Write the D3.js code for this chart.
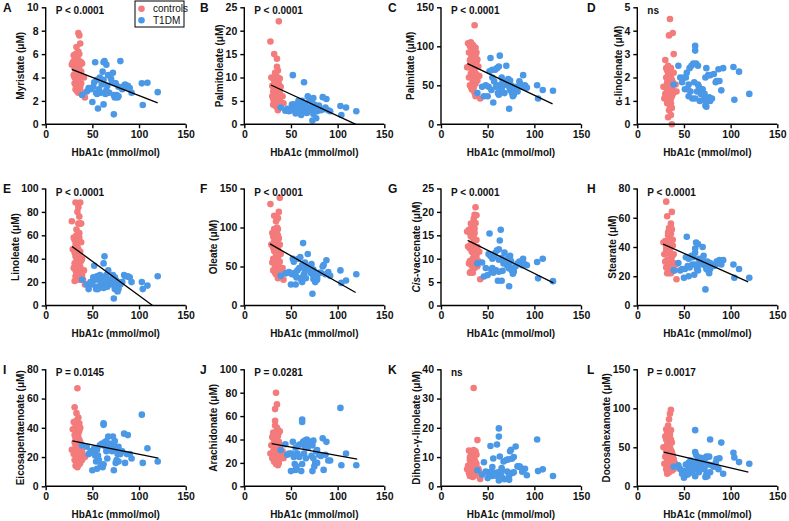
<!DOCTYPE html>
<html><head><meta charset="utf-8">
<script src="https://cdn.jsdelivr.net/npm/d3@7"></script>
<style>body{margin:0;background:#fff}</style>
</head><body><svg id="c" width="789" height="521"></svg>
<script>
const panelLetters = ["A","B","C","D","E","F","G","H","I","J","K","L"];
const yLabels = ["Myristate (μM)","Palmitoleate (μM)","Palmitate (μM)","α-linolenate (μM)",
  "Linoleate (μM)","Oleate (μM)","Cis-vaccenate (μM)","Stearate (μM)",
  "Eicosapentaenoate (μM)","Arachidonate (μM)","Dihomo-γ-linoleate (μM)","Docosahexanoate (μM)"];
const yMax = [10,25,150,5,100,150,25,80,80,100,40,150];
const yStep = [2,5,50,1,20,50,5,20,20,20,10,50];
const pLabels = ["P < 0.0001","P < 0.0001","P < 0.0001","ns","P < 0.0001","P < 0.0001","P < 0.0001","P < 0.0001","P = 0.0145","P = 0.0281","ns","P = 0.0017"];
const xTicks = [0,50,100,150];
const xLabel = "HbA1c (mmol/mol)";
const seriesNames = ["controls","T1DM"];

const controlsHbA1c = [28,29,30,30,31,31,31,32,32,32,32,33,33,33,33,33,34,34,34,34,34,34,35,35,35,35,35,36,36,36,36,36,37,37,37,37,38,38,38,39,39,40,41,42,32,33,34,35,36,31,37,35];
const t1dmHbA1c = [39,44,46,48,50,51,52,53,54,55,55,56,57,58,59,60,61,62,62,62,63,64,65,65,66,67,68,70,71,72,73,73,74,74,75,76,77,78,78,80,82,84,85,87,88,90,92,103,104,109,120];

const ctrlA = [5.1,5.3,4.2,5.9,3.5,4.8,5.6,6.0,3.0,4.4,5.2,6.6,3.8,2.9,5.5,4.6,6.1,3.3,5.0,4.1,2.8,5.7,7.8,3.6,5.3,4.0,6.2,7.6,3.1,4.9,5.4,3.9,6.9,4.3,2.9,5.2,5.3,4.5,3.5,2.6,5.2,2.5,4.0,2.3,3.4,5.8,4.7,2.7,6.0,4.0,3.2,5.0];
const t1dmA = [2.5,2.8,3.1,3.0,1.9,3.2,3.6,5.3,2.7,3.8,2.6,1.35,3.0,4.0,2.7,3.4,4.5,3.8,1.7,5.3,5.4,2.6,5.1,2.9,3.3,4.2,2.7,3.9,3.6,4.4,0.85,2.5,3.5,2.3,3.5,2.5,2.3,2.4,3.2,5.4,3.0,3.3,3.4,3.2,3.3,3.1,2.7,3.5,1.65,3.55,2.75];
const ctrlB = [17.7,10.0,6.0,8.2,4.2,9.8,7.0,15.0,5.0,8.8,4.4,10.2,6.5,9.0,4.0,7.5,8.0,5.5,9.5,6.8,4.8,10.5,14.0,7.2,12.3,5.8,8.5,11.5,3.0,9.2,6.2,7.8,22.0,5.0,8.6,6.5,9.8,5.6,7.0,4.5,8.0,4.6,6.0,4.5,6.8,11.0,3.8,9.0,10.0,5.4,3.5,6.0];
const t1dmB = [3.6,2.9,3.3,2.8,3.0,4.2,10.5,4.3,3.0,3.5,2.3,4.0,3.4,5.0,2.8,4.8,2.0,3.6,2.8,5.0,3.2,9.0,4.5,3.0,3.8,2.4,6.0,5.2,3.5,4.6,0.8,3.0,5.6,2.2,4.2,3.4,1.3,3.8,2.8,4.0,3.0,5.8,3.2,3.6,5.4,3.0,2.8,3.9,2.0,3.6,2.8];
const ctrlC = [73,104,60,92,50,100,82,105,48,65,92,98,70,88,45,80,95,55,85,72,102,62,90,78,100,47,86,127,40,94,75,68,88,52,98,60,92,64,80,56,83,74,62,33,84,102,44,66,96,76,36,58];
const t1dmC = [40,48,36,50,36,48,68,85,44,60,70,28,55,70,48,72,40,38,50,74,88,42,60,45,55,50,40,75,52,58,20,48,56,44,50,40,36,45,38,48,42,55,52,48,63,50,47,50,33,44,43];
const ctrlD = [1.6,1.1,2.75,1.3,2.4,1.1,2.0,1.8,0.9,2.3,1.5,0.3,2.1,1.2,1.7,2.5,3.8,1.0,1.9,1.4,0.6,2.2,4.5,1.3,2.0,0.8,1.7,1.8,0.4,2.1,1.1,2.4,0.0,1.5,1.9,0.7,3.9,1.3,1.8,3.0,2.2,1.4,1.7,1.4,1.0,2.0,1.6,2.3,0.9,1.6,1.2,1.0];
const t1dmD = [1.7,2.5,2.0,1.8,2.0,1.5,2.0,2.2,1.5,1.7,1.2,2.4,1.4,2.5,1.1,2.6,1.8,3.35,3.15,1.1,2.6,1.4,1.7,2.5,1.6,1.0,1.3,1.5,1.05,1.3,0.8,2.0,0.75,2.4,1.0,2.1,1.15,2.1,1.0,1.1,2.15,1.8,1.85,2.35,1.85,1.45,2.4,2.45,1.05,2.25,1.3];
const ctrlE = [72,48,32,58,21,45,36,88,25,52,30,60,40,55,28,47,80,34,57,44,24,50,84,38,70,30,54,76,22,58,42,36,88,28,70,46,70,38,54,26,40,22,30,18,42,65,27,48,62,56,33,43];
const t1dmE = [22,18,14,20,18,24,34,22,14,25,16,14,22,26,18,16,24,15,19,36,42,16,26,20,16,30,22,22,18,26,6,20,24,14,22,16,12,20,14,18,20,26,25,25,25,24,20,20,14,17,25];
const ctrlF = [130,78,55,93,45,88,60,115,46,98,70,95,52,84,42,74,108,48,92,66,40,80,100,58,96,44,76,112,35,90,62,72,120,50,86,46,138,56,78,42,66,40,48,33,82,94,54,64,98,74,40,86];
const t1dmF = [38,41,42,43,27,40,60,56,42,38,27,36,45,60,48,62,33,30,36,52,80,40,55,45,35,50,66,47,42,53,15,40,46,34,37,30,40,33,36,42,42,50,52,40,58,43,38,45,29,32,40];
const ctrlG = [15.8,12.6,9.0,16.2,7.0,12.2,9.5,17.5,7.2,14.8,9.2,16.6,11.5,15.0,8.5,12.8,17.0,10.0,14.5,12.0,7.0,16.0,18.5,11.0,16.8,8.6,13.5,19.4,8.0,15.5,12.0,10.5,21.0,9.0,17.6,12.2,19.3,10.6,14.0,8.4,12.5,9.5,11.5,5.6,13.0,17.2,9.8,14.6,16.4,15.5,8.3,12.0];
const t1dmG = [9.0,9.2,6.2,8.0,6.5,11.0,15.4,10.6,7.6,10.0,8.0,7.0,10.4,11.2,7.5,11.8,5.3,9.8,7.2,12.0,13.9,16.2,10.2,5.3,7.4,9.0,11.3,9.6,8.5,10.2,4.1,7.9,10.6,8.2,9.5,7.5,6.8,8.0,7.2,8.4,9.0,9.4,9.0,8.6,10.0,8.8,8.6,9.3,5.8,10.0,5.2];
const ctrlH = [43,35,30,44,71,26,38,61,22,41,31,48,28,44,24,36,53,27,46,37,22,42,50,32,47,23,39,56,22,49,34,40,64,26,52,33,45,29,41,29,35,24,28,18,36,50,30,43,54,40,23,37];
const t1dmH = [24,29,24,25,19,25,33,47,27,32,20,26,33,34,28,33,21,28,36,39,43,25,42,24,32,30,28,40,34,30,11,27,28,25,30,24,22,29,25,27,27,28,30,30,31,28,31,28,19,25,19];
const ctrlI = [25,39,22,44,54,18,30,42,14,28,38,50,20,34,16,26,67,22,40,31,13,36,47,24,41,19,33,38,15,27,32,22,40,18,30,25,20,28,22,18,24,21,20,20,33,45,28,36,43,35,16,29];
const t1dmI = [28,27,22,24,11,23,26,21,17,25,12,21,18,28,14,29,13,43,42,15,30,27,24,31,19,34,26,29,24,34,11,28,31,25,16,18,22,17,27,22,24,36,16,22,35,22,19,49,16,26,17];
const ctrlJ = [28,35,24,42,30,46,26,37,21,33,44,66,27,38,56,24,80,32,45,28,19,40,70,30,50,22,36,48,18,34,43,26,46,29,38,24,47,30,25,35,28,26,30,24,39,52,35,42,31,36,20,27];
const t1dmJ = [31,36,27,28,13,28,38,25,19,33,14,17,28,35,25,36,13,57,55,19,38,28,34,39,24,40,33,36,38,26,13,35,39,24,17,20,30,20,31,27,26,41,14,27,38,22,22,67,18,28,18];
const ctrlK = [5.8,7.0,4.5,12.2,3.5,9.0,6.0,10.5,4.2,8.0,11.8,6.5,12.0,5.0,9.5,3.8,7.5,11.0,4.8,8.8,3.2,6.8,33.6,12.4,5.5,10.0,4.0,11.2,7.2,3.6,9.0,5.2,12.0,4.4,8.2,6.2,10.8,5.8,7.6,15.8,4.6,6.0,5.0,2.5,7.8,10.2,5.6,8.5,11.5,9.8,4.2,7.0];
const t1dmK = [5.5,4.0,8.2,5.0,2.8,4.8,4.5,13.8,5.0,6.6,3.5,9.5,4.0,4.5,3.6,14.3,4.8,19.8,17.0,2.0,10.2,4.0,6.2,5.5,2.8,8.5,2.4,9.0,5.0,9.2,2.2,3.5,12.0,4.5,12.5,9.4,4.6,10.0,4.8,13.6,6.8,6.8,6.5,5.0,5.5,6.0,3.8,16.0,5.2,5.8,3.5];
const ctrlL = [50,29,64,38,73,22,45,70,16,54,34,62,25,48,20,40,86,30,58,44,18,52,93,36,66,26,50,98,22,60,38,46,56,28,44,33,40,30,26,35,22,30,28,25,42,78,35,55,72,60,20,42];
const t1dmL = [25,27,22,16,11,20,28,18,15,30,22,17,33,26,19,30,22,72,44,13,40,24,35,29,18,37,24,30,36,22,12,36,38,15,13,28,38,60,18,27,25,30,35,22,36,56,16,43,37,31,29];

const fitStartX = [28,28.5,28.4,null,28.2,27.5,28.6,27.7,28.6,29.3,null,28.4];
const fitStartY = [4.7,8.4,77.8,null,50.5,79,13.9,42,31.1,36.4,null,43.9];
const fitEndX   = [120,119.6,119.5,null,120,119.3,120.4,118.8,120.7,121,null,119];
const fitEndY   = [1.83,0,26.2,null,-3.2,16.6,4.84,16.2,19.3,23.3,null,18.3];

const controlsY = [ctrlA,ctrlB,ctrlC,ctrlD,ctrlE,ctrlF,ctrlG,ctrlH,ctrlI,ctrlJ,ctrlK,ctrlL];
const t1dmY = [t1dmA,t1dmB,t1dmC,t1dmD,t1dmE,t1dmF,t1dmG,t1dmH,t1dmI,t1dmJ,t1dmK,t1dmL];

const colCtrl = "#F47B7B", colT1 = "#4A98E6";
const FONT = "'Liberation Sans', Arial, sans-serif";
const svg = d3.select("#c");
const colX = [45.7, 244.3, 441, 637.3];
const rowTop = [7.3, 188.5, 369.3];
const pw = 140, ph = 117, R = 3.3;
const letterX = [3, 200, 388, 587];

panelLetters.forEach((L, i) => {
  const c = i % 4, r = Math.floor(i / 4);
  const g = svg.append("g").attr("transform", `translate(${colX[c]},${rowTop[r]})`);
  const x = d3.scaleLinear().domain([0,150]).range([0,pw]);
  const y = d3.scaleLinear().domain([0,yMax[i]]).range([ph,0]);

  // points
  g.append("g").selectAll("circle").data(controlsHbA1c.map((h,k)=>[h,controlsY[i][k]]))
    .join("circle").attr("cx",d=>x(d[0])).attr("cy",d=>y(d[1])).attr("r",R).attr("fill",colCtrl);
  g.append("g").selectAll("circle").data(t1dmHbA1c.map((h,k)=>[h,t1dmY[i][k]]))
    .join("circle").attr("cx",d=>x(d[0])).attr("cy",d=>y(d[1])).attr("r",R).attr("fill",colT1);

  // fit line
  if (fitStartX[i] !== null) {
    let x0 = fitStartX[i], y0 = fitStartY[i], x1 = fitEndX[i], y1 = fitEndY[i];
    if (y1 < 0) { x1 = x0 + (0 - y0) * (x1 - x0) / (y1 - y0); y1 = 0; }
    g.append("line").attr("x1",x(x0)).attr("y1",y(y0)).attr("x2",x(x1)).attr("y2",y(y1))
      .attr("stroke","#000").attr("stroke-width",1.3);
  }

  // axes
  const ticks = d3.range(0, yMax[i] + yStep[i]/2, yStep[i]);
  const ya = g.append("g").call(d3.axisLeft(y).tickValues(ticks).tickSize(4).tickPadding(3).tickFormat(d3.format("d")));
  const xa = g.append("g").attr("transform",`translate(0,${ph})`).call(d3.axisBottom(x).tickValues(xTicks).tickSize(4).tickPadding(2).tickFormat(d3.format("d")));
  [ya, xa].forEach(a => {
    a.select(".domain").attr("stroke","#000").attr("stroke-width",1.4);
    a.selectAll(".tick line").attr("stroke","#000").attr("stroke-width",1.4);
    a.selectAll(".tick text").attr("fill","#111").attr("font-family",FONT).attr("font-weight","bold").attr("font-size",10.5);
  });
  ya.select(".domain").attr("d", `M0,${ph}V0`);
  xa.select(".domain").attr("d", `M0,0H${pw}`);

  let maxW = 0;
  ya.selectAll(".tick text").each(function(){ maxW = Math.max(maxW, this.getBBox().width); });

  // y title
  const yt = g.append("text").attr("transform",`translate(${-(7 + maxW + 6)},${ph/2}) rotate(-90)`)
    .attr("text-anchor","middle").attr("dominant-baseline","central")
    .attr("font-family",FONT).attr("font-weight","bold").attr("font-size",10).attr("fill","#111");
  if (yLabels[i].startsWith("Cis")) {
    yt.append("tspan").attr("font-style","italic").text("Cis");
    yt.append("tspan").text(yLabels[i].slice(3));
  } else yt.text(yLabels[i]);

  // x title
  g.append("text").attr("x",pw/2).attr("y",ph+31.5).attr("text-anchor","middle")
    .attr("font-family",FONT).attr("font-weight","bold").attr("font-size",10).attr("fill","#111").text(xLabel);

  // p label
  g.append("text").attr("x",10).attr("y",7).attr("font-family",FONT).attr("font-weight","bold")
    .attr("font-size",10).attr("fill","#111").text(pLabels[i]);

  // panel letter
  svg.append("text").attr("x",letterX[c]).attr("y",rowTop[r]+4.2).attr("font-family",FONT)
    .attr("font-weight","bold").attr("font-size",12).attr("fill","#111").text(L);
});

// legend in panel A
const lg = svg.append("g");
lg.append("rect").attr("x",135).attr("y",1).attr("width",49).attr("height",26).attr("fill","#fff").attr("stroke","#000").attr("stroke-width",1);
[colCtrl, colT1].forEach((col, k) => {
  lg.append("circle").attr("cx",141.5).attr("cy",8.7 + k*11.6).attr("r",R).attr("fill",col);
  lg.append("text").attr("x",153).attr("y",12.2 + k*11.6).attr("font-family",FONT).attr("font-size",10).attr("fill","#111").text(seriesNames[k]);
});
</script></body></html>
